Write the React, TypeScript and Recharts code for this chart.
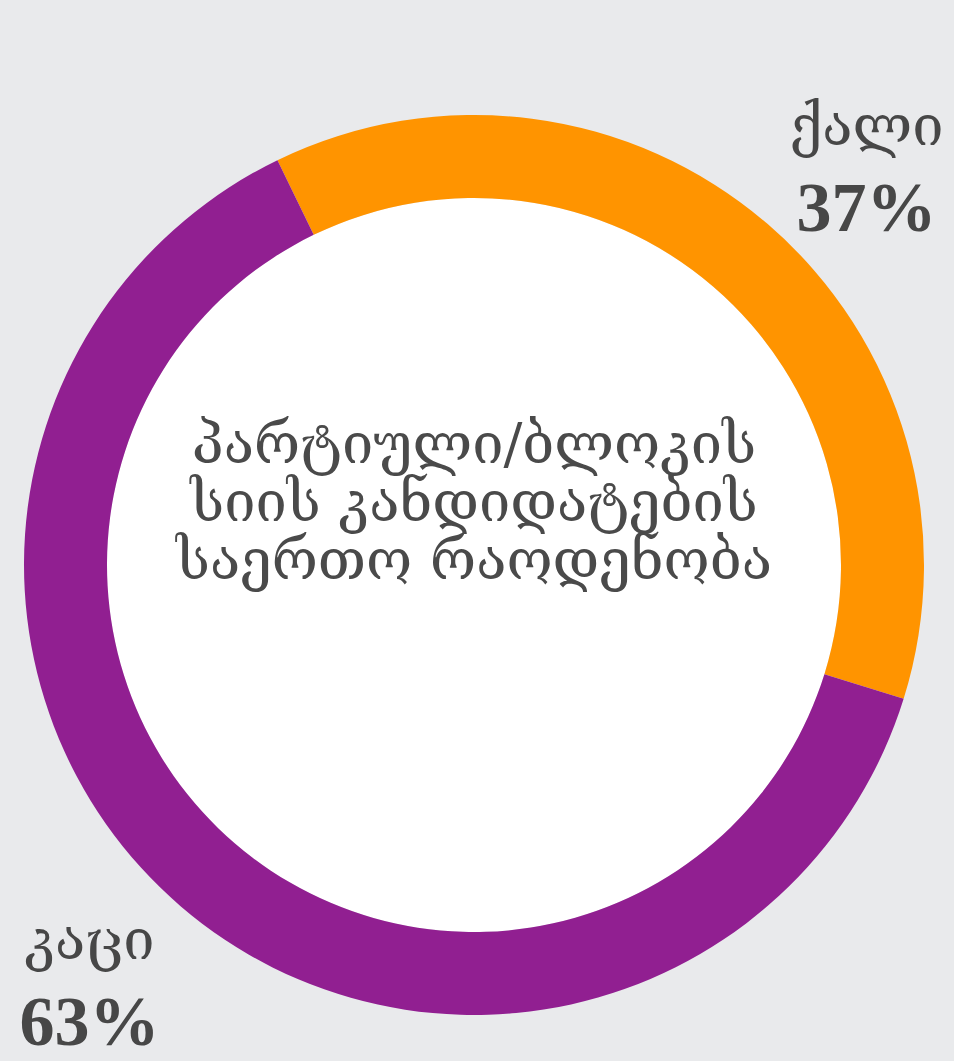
import { PieChart, Pie, Cell, Label } from 'recharts';

const categories = ['ქალი', 'კაცი'];
const shares = [37, 63];
const colors = ['#ff9400', '#911f91'];
const titleLines = ['პარტიული/ბლოკის', 'სიის კანდიდატების', 'საერთო რაოდენობა'];

const data = categories.map((name, i) => ({ name, value: shares[i] }));
const hole = [{ name: 'hole', value: 1 }];

const CX = 474;
const CY = 565;
const RAD = Math.PI / 180;
// small nudges so the labels sit where the original put them
const labelNudge = [
  { dx: 26, dy: 26 },
  { dx: -18, dy: -12 },
];

const renderLabel = (props: any) => {
  const { cx, cy, outerRadius, midAngle, index, name, value } = props;
  const r = outerRadius + 112;
  const x = cx + r * Math.cos(-midAngle * RAD) + labelNudge[index].dx;
  const y = cy + r * Math.sin(-midAngle * RAD) + labelNudge[index].dy;
  return (
    <text x={x} y={y} textAnchor="middle" fill="#474747">
      <tspan x={x} dy={-20} fontFamily="'DejaVu Serif', serif" fontSize={56}>
        {name}
      </tspan>
      <tspan x={x} dy={86} fontFamily="'Liberation Serif', serif" fontWeight="bold" fontSize={70}>
        {value}%
      </tspan>
    </text>
  );
};

const renderTitle = () => (
  <text x={CX} y={CY - 102} textAnchor="middle" fill="#4a4a4a" fontFamily="'DejaVu Serif', serif" fontSize={56}>
    {titleLines.map((line, i) => (
      <tspan key={i} x={CX} dy={i === 0 ? 0 : 58}>
        {line}
      </tspan>
    ))}
  </text>
);

export default function App() {
  return (
    <div style={{ position: 'absolute', left: 0, top: 0, width: 954, height: 1061, background: '#e9eaec', overflow: 'hidden' }}>
      <PieChart width={954} height={1061} margin={{ top: 0, right: 0, bottom: 0, left: 0 }}>
        <Pie
          data={hole}
          dataKey="value"
          cx={CX}
          cy={CY}
          innerRadius={0}
          outerRadius={367}
          fill="#ffffff"
          stroke="none"
          isAnimationActive={false}
        >
          <Label position="center" content={renderTitle} />
        </Pie>
        <Pie
          data={data}
          dataKey="value"
          cx={CX}
          cy={CY}
          innerRadius={367}
          outerRadius={450}
          startAngle={115.9}
          endAngle={115.9 - 360}
          stroke="none"
          label={renderLabel}
          labelLine={false}
          isAnimationActive={false}
        >
          {data.map((d, i) => (
            <Cell key={d.name} fill={colors[i]} />
          ))}
        </Pie>
      </PieChart>
    </div>
  );
}
